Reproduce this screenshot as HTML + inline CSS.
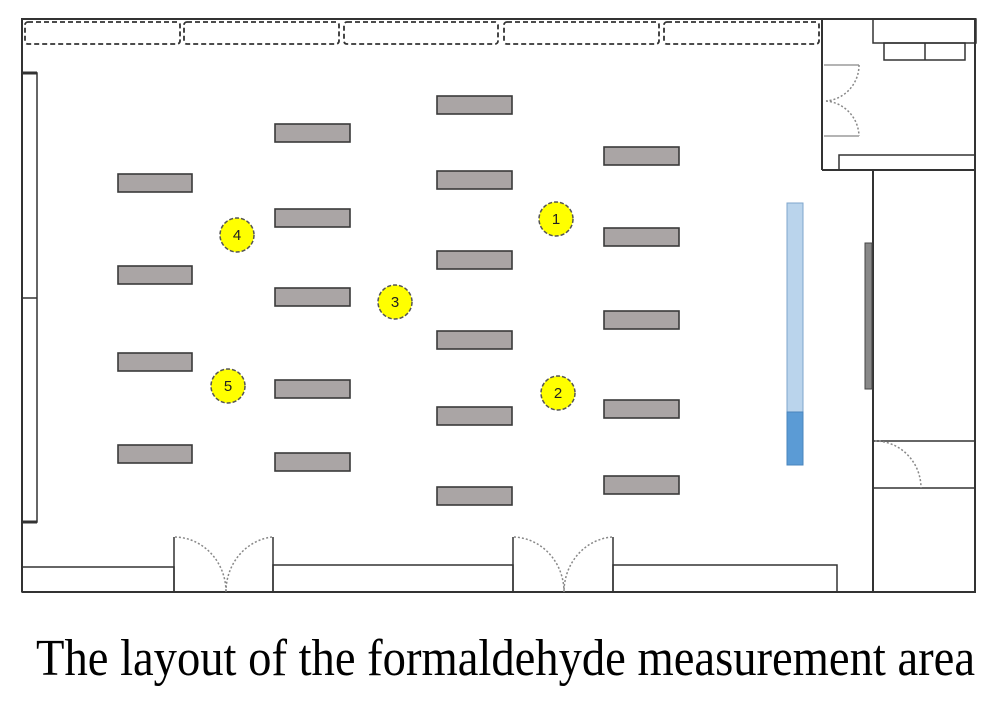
<!DOCTYPE html>
<html><head><meta charset="utf-8"><style>
html,body{margin:0;padding:0;background:#fff;width:1000px;height:703px;overflow:hidden}
</style></head><body>
<svg width="1000" height="703" viewBox="0 0 1000 703" xmlns="http://www.w3.org/2000/svg">
<g fill="none" stroke="#333" stroke-width="2">
<polyline points="22,592 22,19 975,19 975,592 22,592"/>
<line x1="822" y1="19" x2="822" y2="170"/>
<line x1="822" y1="170" x2="975" y2="170"/>
<line x1="873" y1="170" x2="873" y2="592"/>
<rect x="22" y="73" width="15" height="449" stroke-width="1.5"/>
<line x1="22" y1="298" x2="37" y2="298" stroke-width="1.5"/>
<line x1="22" y1="73" x2="37" y2="73" stroke-width="3"/>
<line x1="22" y1="522" x2="37" y2="522" stroke-width="3"/>
<rect x="873" y="19" width="103" height="24" stroke-width="1.5"/>
<rect x="884" y="43" width="81" height="17" stroke-width="1.5"/>
<line x1="925" y1="43" x2="925" y2="60" stroke-width="1.5"/>
<polyline points="839,170 839,155 975,155" stroke-width="1.5"/>
<line x1="873" y1="441" x2="975" y2="441" stroke-width="1.5"/>
<line x1="873" y1="488" x2="975" y2="488" stroke-width="1.5"/>
<rect x="22" y="567" width="152" height="25" stroke-width="1.5"/>
<rect x="273" y="565" width="240" height="27" stroke-width="1.5"/>
<rect x="613" y="565" width="224" height="27" stroke-width="1.5"/>
<line x1="174" y1="537" x2="174" y2="592" stroke-width="1.5"/>
<line x1="273" y1="537" x2="273" y2="592" stroke-width="1.5"/>
<line x1="513" y1="537" x2="513" y2="592" stroke-width="1.5"/>
<line x1="613" y1="537" x2="613" y2="592" stroke-width="1.5"/>
</g>
<g fill="none" stroke="#888" stroke-width="1.3">
<line x1="824" y1="65" x2="859" y2="65"/>
<line x1="824" y1="136" x2="859" y2="136"/>
</g>
<g fill="none" stroke="#888" stroke-width="1.5" stroke-dasharray="2,2">
<path d="M859,65 A36,36 0 0 1 826,101"/>
<path d="M826,101 A36,36 0 0 1 859,136"/>
<path d="M175,537 A52,55 0 0 1 226,592"/>
<path d="M272,537 A52,55 0 0 0 226,592"/>
<path d="M514,537 A52,55 0 0 1 564,592"/>
<path d="M612,537 A52,55 0 0 0 564,592"/>
<path d="M875,441 A46,47 0 0 1 921,488"/>
</g>
<g fill="none" stroke="#333" stroke-width="1.8" stroke-dasharray="5,3">
<rect x="25" y="22" width="155" height="22" rx="3"/>
<rect x="184" y="22" width="155" height="22" rx="3"/>
<rect x="344" y="22" width="154" height="22" rx="3"/>
<rect x="504" y="22" width="155" height="22" rx="3"/>
<rect x="664" y="22" width="155" height="22" rx="3"/>
</g>
<rect x="865" y="243" width="7" height="146" fill="#888" stroke="#444" stroke-width="1"/>
<rect x="787" y="203" width="16" height="209" fill="#bad4ec" stroke="#7fa6cc" stroke-width="1"/>
<rect x="787" y="412" width="16" height="53" fill="#5b9bd5" stroke="#4a85bd" stroke-width="1"/>
<g fill="#aaa5a5" stroke="#3a3a3a" stroke-width="1.6">
<rect x="118" y="174" width="74" height="18"/>
<rect x="118" y="266" width="74" height="18"/>
<rect x="118" y="353" width="74" height="18"/>
<rect x="118" y="445" width="74" height="18"/>
<rect x="275" y="124" width="75" height="18"/>
<rect x="275" y="209" width="75" height="18"/>
<rect x="275" y="288" width="75" height="18"/>
<rect x="275" y="380" width="75" height="18"/>
<rect x="275" y="453" width="75" height="18"/>
<rect x="437" y="96" width="75" height="18"/>
<rect x="437" y="171" width="75" height="18"/>
<rect x="437" y="251" width="75" height="18"/>
<rect x="437" y="331" width="75" height="18"/>
<rect x="437" y="407" width="75" height="18"/>
<rect x="437" y="487" width="75" height="18"/>
<rect x="604" y="147" width="75" height="18"/>
<rect x="604" y="228" width="75" height="18"/>
<rect x="604" y="311" width="75" height="18"/>
<rect x="604" y="400" width="75" height="18"/>
<rect x="604" y="476" width="75" height="18"/>
</g>
<g fill="#ffff00" stroke="#555" stroke-width="1.5" stroke-dasharray="4,2">
<circle cx="556" cy="219" r="17"/>
<circle cx="558" cy="393" r="17"/>
<circle cx="395" cy="302" r="17"/>
<circle cx="237" cy="235" r="17"/>
<circle cx="228" cy="386" r="17"/>
</g>
<g font-family="Liberation Sans, sans-serif" font-size="15" fill="#222" text-anchor="middle">
<text x="556" y="224">1</text>
<text x="558" y="398">2</text>
<text x="395" y="307">3</text>
<text x="237" y="240">4</text>
<text x="228" y="391">5</text>
</g>
<text x="36" y="675" font-family="Liberation Serif, serif" font-size="52" fill="#000" textLength="939" lengthAdjust="spacingAndGlyphs">The layout of the formaldehyde measurement area</text>
</svg>
</body></html>
